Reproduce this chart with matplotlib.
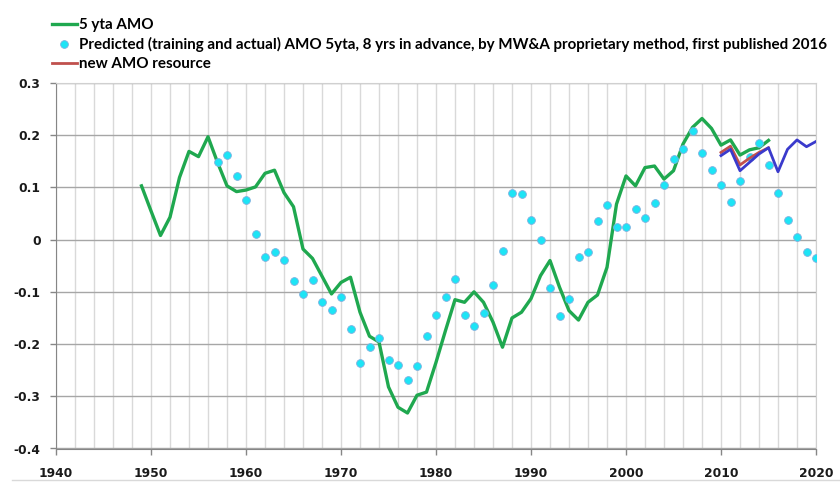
import numpy as np
import matplotlib
matplotlib.use("Agg")
from matplotlib import pyplot as plt
from matplotlib.lines import Line2D
from matplotlib.ticker import MultipleLocator

# 5 yr trailing average AMO
amo_years = list(range(1949, 2016))
amo = [0.103, 0.055, 0.008, 0.043, 0.119, 0.169, 0.159, 0.197, 0.148, 0.103,
       0.092, 0.095, 0.101, 0.127, 0.133, 0.090, 0.063, -0.018, -0.036, -0.070,
       -0.104, -0.082, -0.072, -0.139, -0.185, -0.196, -0.282, -0.321, -0.332, -0.298,
       -0.292, -0.235, -0.174, -0.115, -0.120, -0.100, -0.120, -0.158, -0.206, -0.150,
       -0.139, -0.113, -0.069, -0.040, -0.091, -0.136, -0.154, -0.120, -0.106, -0.053,
       0.068, 0.122, 0.103, 0.138, 0.141, 0.116, 0.132, 0.183, 0.215, 0.232,
       0.213, 0.181, 0.191, 0.162, 0.172, 0.176, 0.190]

# predicted values (8 yrs in advance)
pred_years = list(range(1957, 2021))
pred = [0.148, 0.163, 0.122, 0.076, 0.011, -0.034, -0.023, -0.039, -0.079, -0.104,
        -0.077, -0.119, -0.134, -0.109, -0.171, -0.237, -0.205, -0.188, -0.231, -0.241,
        -0.268, -0.242, -0.185, -0.145, -0.110, -0.076, -0.144, -0.166, -0.141, -0.087,
        -0.022, 0.089, 0.088, 0.037, 0.000, -0.093, -0.146, -0.113, -0.033, -0.023,
        0.036, 0.066, 0.025, 0.024, 0.059, 0.042, 0.070, 0.105, 0.154, 0.173,
        0.208, 0.166, 0.134, 0.105, 0.073, 0.113, 0.159, 0.185, 0.143, 0.090,
        0.038, 0.006, -0.024, -0.036]

# new AMO resource
red_years = list(range(2010, 2016))
red_vals = [0.167, 0.179, 0.143, 0.156, 0.167, 0.176]
blue_years = list(range(2010, 2021))
blue_vals = [0.161, 0.173, 0.132, 0.148, 0.164, 0.176, 0.130, 0.173, 0.191, 0.178, 0.188]

ytick_labels = ["-0.4", "-0.3", "-0.2", "-0.1", "0", "0.1", "0.2", "0.3"]
labels = ["5 yta AMO",
          "Predicted (training and actual) AMO 5yta, 8 yrs in advance, by MW&A proprietary method, first published 2016",
          "new AMO resource"]

GREEN = "#1fa84f"
CYAN = "#1de4f5"
RED = "#c0504d"
BLUE = "#3a3acc"

fig = plt.figure(figsize=(8.4, 4.9), dpi=100)
ax = fig.add_axes([56 / 840, 1 - 448.5 / 490, 760 / 840, 365.5 / 490])

ax.plot(amo_years, amo, color=GREEN, lw=2.4, zorder=3)
ax.plot(pred_years, pred, ls="none", marker="o", ms=5.6, mfc=CYAN,
        mec="#7fb0e0", mew=0.6, zorder=4)
ax.plot(red_years, red_vals, color=RED, lw=2.0, zorder=5)
ax.plot(blue_years, blue_vals, color=BLUE, lw=2.0, zorder=6)

ax.set_xlim(1940, 2020)
ax.set_ylim(-0.4, 0.3)
ax.xaxis.set_major_locator(MultipleLocator(10))
ax.xaxis.set_minor_locator(MultipleLocator(2))
ax.set_yticks(np.arange(-0.4, 0.31, 0.1))
ax.set_yticklabels(ytick_labels)

ax.grid(which="both", axis="x", color="#d9d9d9", lw=1.0, zorder=0)
ax.grid(which="major", axis="y", color="#a6a6a6", lw=1.0, zorder=0)
ax.set_axisbelow(True)

for s in ["top", "right"]:
    ax.spines[s].set_color("#d0d0d0")
for s in ["left", "bottom"]:
    ax.spines[s].set_color("#868686")

ax.tick_params(which="major", direction="out", length=4, width=1, color="#868686")
ax.tick_params(which="minor", length=0)
ax.tick_params(axis="x", pad=9)
ax.tick_params(axis="y", pad=7)
for lab in ax.get_xticklabels() + ax.get_yticklabels():
    lab.set_fontweight("bold")
    lab.set_fontsize(8.8)
    lab.set_color("#1a1a1a")

handles = [Line2D([], [], color=GREEN, lw=2.4),
           Line2D([], [], ls="none", marker="o", ms=5.6, mfc=CYAN, mec="#7fb0e0", mew=0.6),
           Line2D([], [], color=RED, lw=2.0)]
fig.legend(handles, labels, loc="upper left", bbox_to_anchor=(52 / 840, 1 - 18 / 490),
           frameon=False, borderpad=0, borderaxespad=0, handlelength=1.65,
           handletextpad=0.12, labelspacing=0.33,
           prop={"family": ["Lato", "DejaVu Sans"], "weight": "bold", "size": 10.9})

fig.add_artist(Line2D([12 / 840, 1.0], [10 / 490, 10 / 490], color="#d9d9d9", lw=1))

fig.savefig("out.png", dpi=100)
